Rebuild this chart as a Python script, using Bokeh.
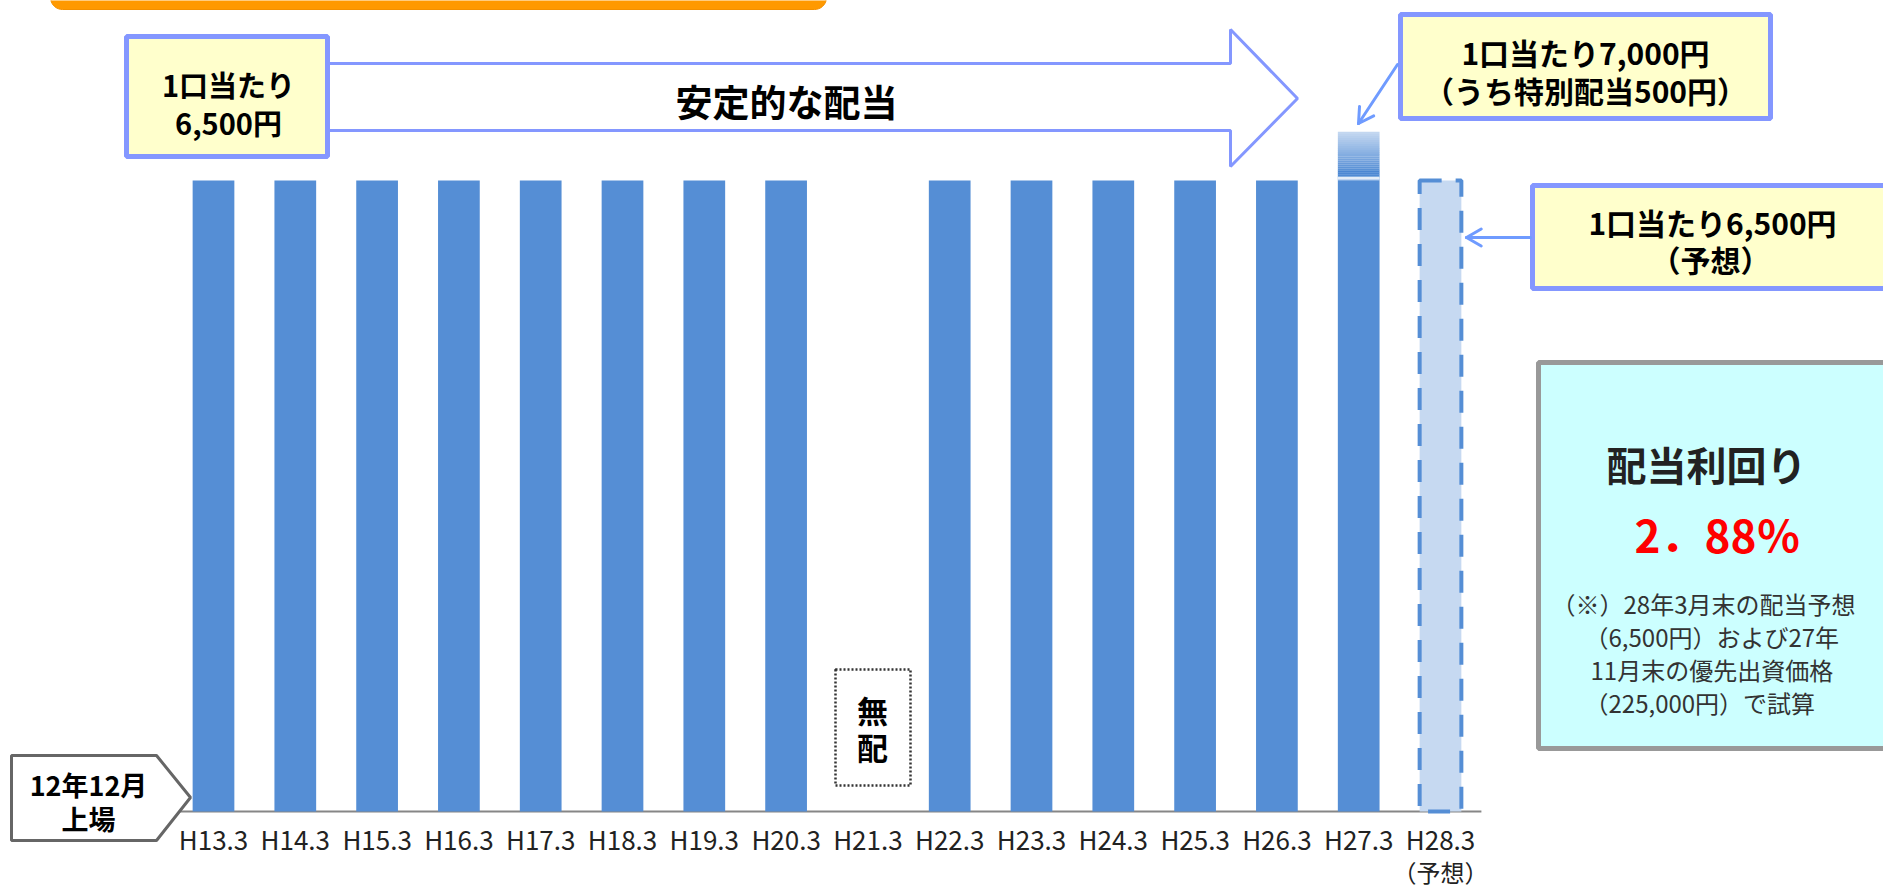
import math
from bokeh.plotting import figure
from bokeh.models import Range1d, ColumnDataSource
from bokeh.core.properties import value
from bokeh.embed import file_html
from bokeh.resources import INLINE

# ---------------- data ----------------
categories = ["H13.3", "H14.3", "H15.3", "H16.3", "H17.3", "H18.3", "H19.3", "H20.3",
              "H21.3", "H22.3", "H23.3", "H24.3", "H25.3", "H26.3", "H27.3", "H28.3"]
dividend = [6500, 6500, 6500, 6500, 6500, 6500, 6500, 6500,
            0, 6500, 6500, 6500, 6500, 6500, 6500, 6500]
special = [0, 0, 0, 0, 0, 0, 0, 0, 0, 0, 0, 0, 0, 0, 500, 0]
forecast = [False, False, False, False, False, False, False, False,
            False, False, False, False, False, False, False, True]
forecast_note = "（予想）"

FONT = value("Noto Sans CJK JP")
BAR = "#558ED5"
LIGHT = "#C6D9F1"
BOXLINE = "#8497FF"
YELLOW = "#FFFFCC"
ARROW = "#6F9BFF"

W, H = 1883, 891
PAGE_X0, PAGE_Y0 = 0, 0

# data scale: category index i at page x = 213 + 81.8*i ; 0 yen at page y 811, 6500 at 180
step = 81.8
x0 = 213.0
xs_start = (PAGE_X0 - x0) / step
xs_end = (PAGE_X0 + W - x0) / step
ppy = (811 - 180) / 6500.0
ys_start = -(PAGE_Y0 + H - 811) / ppy
ys_end = (811 - PAGE_Y0) / ppy

p = figure(width=W, height=H, x_range=Range1d(xs_start, xs_end),
           y_range=Range1d(ys_start, ys_end), output_backend="svg",
           toolbar_location=None, min_border=0,
           x_axis_location=None, y_axis_location=None)
p.grid.visible = False
p.outline_line_color = None
p.background_fill_color = "white"
p.border_fill_color = "white"
p.extra_x_ranges = {"px": Range1d(PAGE_X0, PAGE_X0 + W)}
p.extra_y_ranges = {"px": Range1d(PAGE_Y0 + H, PAGE_Y0)}
PX = dict(x_range_name="px", y_range_name="px")


def txt(x, y, s, size, bold=True, color="black", align="center", **kw):
    p.text(x=[x], y=[y], text=[s], text_font=FONT, text_font_size=f"{size}px",
           text_font_style="bold" if bold else "normal", text_color=color,
           text_align=align, text_baseline="middle", **PX, **kw)


def box(l, r, t, b, fill, line, lw, dash="solid"):
    p.quad(left=[l], right=[r], top=[t], bottom=[b], fill_color=fill,
           line_color=line, line_width=lw, line_dash=dash, **PX)


def open_arrow(xa, ya, xb, yb, color, lw, head=17):
    ang = math.atan2(yb - ya, xb - xa)
    hx, hy = [], []
    for da in (math.radians(150), math.radians(-150)):
        hx.append([xb, xb + head * math.cos(ang + da)])
        hy.append([yb, yb + head * math.sin(ang + da)])
    p.multi_line(xs=[[xa, xb]] + hx, ys=[[ya, yb]] + hy, line_color=color,
                 line_width=lw, line_cap="round", **PX)


idx = list(range(len(categories)))

# ---------------- orange title band (cut off at top) ----------------
rr, bl, br, bb = 12, 50, 826, 9
ox, oy = [], []
for k in range(0, 91, 10):
    a = math.radians(k)
    ox.append(bl + rr - rr * math.cos(a)); oy.append(bb - rr + rr * math.sin(a))
for k in range(90, -1, -10):
    a = math.radians(k)
    ox.append(br - rr + rr * math.cos(a)); oy.append(bb - rr + rr * math.sin(a))
p.patch(x=[bl] + ox + [br], y=[-20] + oy + [-20],
        fill_color="#FF9900", line_color="#F39000", line_width=1, **PX)

# ---------------- baseline ----------------
p.line(x=[-0.5, len(categories) - 0.5], y=[0, 0], line_color="#868686", line_width=2)

# ---------------- bars ----------------
reg = [i for i in idx if not forecast[i] and dividend[i] > 0]
src = ColumnDataSource(dict(x=[i for i in reg], top=[dividend[i] for i in reg]))
p.vbar(x="x", top="top", bottom=0, width=0.51, source=src, fill_color=BAR, line_color=None)

fc = [i for i in idx if forecast[i]]
srcf = ColumnDataSource(dict(x=fc, top=[dividend[i] for i in fc]))
p.vbar(x="x", top="top", bottom=0, width=0.51, source=srcf, fill_color=LIGHT,
       line_color=BAR, line_width=4, line_dash="22 14")


# special dividend part drawn as a vertical gradient
def mix(c1, c2, t):
    a = [int(c1[k:k + 2], 16) for k in (1, 3, 5)]
    b = [int(c2[k:k + 2], 16) for k in (1, 3, 5)]
    return "#%02x%02x%02x" % tuple(round(a[j] + (b[j] - a[j]) * t) for j in range(3))


n_sl = 24
for i in idx:
    if special[i] > 0:
        base = dividend[i]
        h = special[i] / n_sl
        lefts, tops, bots, cols = [], [], [], []
        for k in range(n_sl):
            f = (k + 0.5) / n_sl
            if f < 0.2:
                c = mix(BAR, "#4A86D2", f / 0.2)
            else:
                c = mix(BAR, LIGHT, (f - 0.2) / 0.8)
            lefts.append(i)
            bots.append(base + k * h)
            tops.append(base + (k + 1) * h + 1)
            cols.append(c)
        p.vbar(x=lefts, top=tops, bottom=bots, width=0.51, fill_color=cols, line_color=None)
        p.segment(x0=[i - 0.255], x1=[i + 0.255], y0=[base + 22], y1=[base + 22],
                  line_color="#E4EDF8", line_width=3)

# ---------------- tick labels ----------------
p.text(x=idx, y=838, text=categories, text_font=FONT, text_font_size="26px",
       text_color="#222222", text_align="center", text_baseline="middle", y_range_name="px")
p.text(x=fc, y=871, text=[forecast_note] * len(fc), text_font=FONT, text_font_size="24px",
       text_color="#222222", text_align="center", text_baseline="middle", y_range_name="px")

# ---------------- big arrow "安定的な配当" ----------------
p.patch(x=[300, 1230, 1230, 1297, 1230, 1230, 300],
        y=[63, 63, 29, 98, 166, 130, 130],
        fill_color="white", line_color=BOXLINE, line_width=3, **PX)
txt(786, 100, "安定的な配当", 37)

# left yellow box
box(126, 327, 36, 156, YELLOW, BOXLINE, 5)
txt(228, 83, "1口当たり", 29)
txt(228, 121, "6,500円", 29)

# top-right box + arrow
box(1400, 1770, 14, 118, YELLOW, BOXLINE, 5)
txt(1585, 51, "1口当たり7,000円", 30)
txt(1585, 89, "（うち特別配当500円）", 30)
open_arrow(1397, 64, 1358, 123, ARROW, 3)

# right-middle box + arrow
box(1532, 1900, 185, 288, YELLOW, BOXLINE, 5)
txt(1712, 221, "1口当たり6,500円", 30)
txt(1710, 258, "（予想）", 30)
open_arrow(1530, 237, 1466, 237, ARROW, 3)

# yield box
box(1538, 1900, 362, 748, "#CCFFFF", "#999999", 5)
txt(1706, 463, "配当利回り", 40, color="#222222")
txt(1717, 533, "2．88％", 44, color="#FF0000")
txt(1551, 603, "（※）28年3月末の配当予想", 24, bold=False, color="#333333", align="left")
txt(1584, 636, "（6,500円）および27年", 24, bold=False, color="#333333", align="left")
txt(1590, 669, "11月末の優先出資価格", 24, bold=False, color="#333333", align="left")
txt(1584, 702, "（225,000円）で試算", 24, bold=False, color="#333333", align="left")

# listing pentagon
p.patch(x=[11, 156, 190, 156, 11], y=[755, 755, 797, 840, 840],
        fill_color="white", line_color="#666666", line_width=3, **PX)
txt(88, 784, "12年12月", 27)
txt(88, 818, "上場", 27)

# no-dividend box
box(835, 910, 669, 785, "white", "#333333", 2.5, dash="2 2")
txt(872, 709, "無", 31)
txt(872, 746, "配", 31)

open("out.html", "w").write(file_html(p, INLINE))
